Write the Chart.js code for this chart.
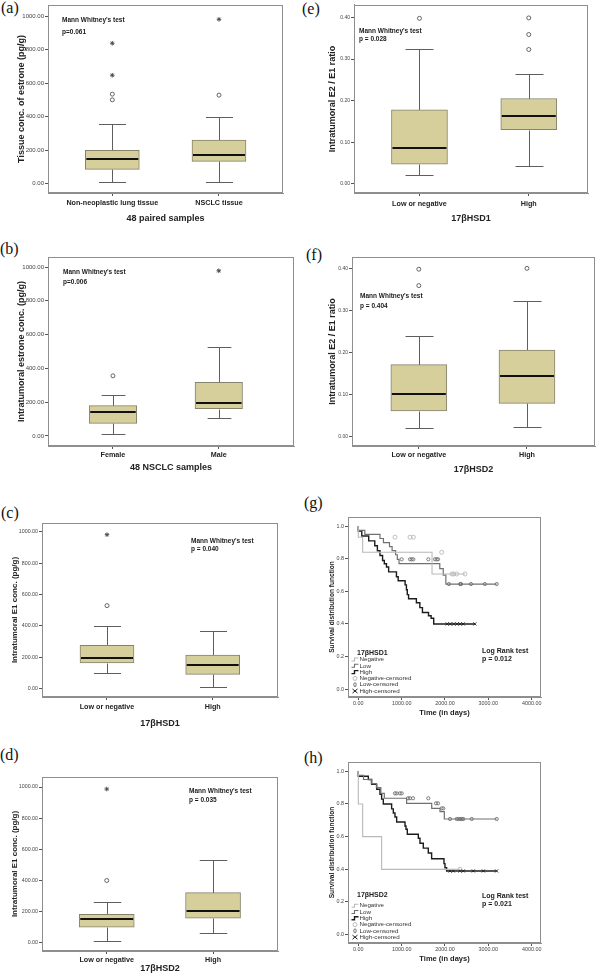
<!DOCTYPE html>
<html>
<head>
<meta charset="utf-8">
<script src="https://cdn.jsdelivr.net/npm/chart.js@4.4.1/dist/chart.umd.min.js"></script>
<style>
  html, body { margin: 0; padding: 0; background: #fff; }
  body { position: relative; width: 600px; height: 979px; overflow: hidden; }
  canvas { position: absolute; }
  .plabel { position: absolute; font-family: 'Liberation Serif', 'DejaVu Serif', serif; font-size: 16px; line-height: 16px; color: #111; }
</style>
</head>
<body>
<div class="plabel" style="left:1px;top:0px">(a)</div>
<div class="plabel" style="left:302px;top:1px">(e)</div>
<div class="plabel" style="left:0px;top:241px">(b)</div>
<div class="plabel" style="left:306px;top:247px">(f)</div>
<div class="plabel" style="left:1px;top:505px">(c)</div>
<div class="plabel" style="left:304px;top:495px">(g)</div>
<div class="plabel" style="left:0px;top:747px">(d)</div>
<div class="plabel" style="left:304px;top:750px">(h)</div>
<script>
// ---------------- DATA ----------------
const E1_TICKS = [0, 200, 400, 600, 800, 1000];
const RATIO_TICKS = [0, 0.1, 0.2, 0.3, 0.4];
const SURV_TICKS = [0, 0.2, 0.4, 0.6, 0.8, 1.0];
const TIME_TICKS = [0, 1000, 2000, 3000, 4000];

// box stats: [lower whisker, Q1, median, Q3, upper whisker]
// (a)
const aCategories = ["Non-neoplastic lung tissue", "NSCLC tissue"];
const aStats = [[12, 85, 147, 199, 354], [8, 133, 171, 260, 398]];
const aOutliers = [[501, 535], [529]];
const aExtremes = [[648, 839], [982]];
// (b)
const bCategories = ["Female", "Male"];
const bStats = [[10, 75, 141, 180, 242], [105, 162, 198, 317, 527]];
const bOutliers = [[356], []];
const bExtremes = [[], [978]];
// (c)
const cCategories = ["Low or negative", "High"];
const cStats = [[100, 164, 198, 277, 398], [11, 91, 153, 215, 368]];
const cOutliers = [[530], []];
const cExtremes = [[983], []];
// (d)
const dCategories = ["Low or negative", "High"];
const dStats = [[9, 97, 148, 181, 258], [58, 155, 200, 320, 533]];
const dOutliers = [[398], []];
const dExtremes = [[987], []];
// (e)
const eCategories = ["Low or negative", "High"];
const eStats = [[0.021, 0.047, 0.087, 0.178, 0.323], [0.043, 0.130, 0.163, 0.205, 0.265]];
const eOutliers = [[0.398], [0.399, 0.359, 0.323]];
// (f)
const fCategories = ["Low or negative", "High"];
const fStats = [[0.021, 0.061, 0.101, 0.171, 0.240], [0.024, 0.079, 0.144, 0.206, 0.323]];
const fOutliers = [[0.359, 0.398], [0.400]];

// (g) 17βHSD1 survival
const gNegTimes = [0, 100, 1701, 2100];
const gNegSurv = [1.0, 0.933, 0.84, 0.707];
const gNegCensored = [846, 1193, 1270, 1924, 2162, 2200, 2270, 2462];
const gLowTimes = [0, 150, 500, 580, 720, 780, 860, 900, 940, 1880, 1960, 2020, 2070];
const gLowSurv = [1.0, 0.975, 0.95, 0.925, 0.90, 0.875, 0.85, 0.825, 0.797, 0.77, 0.74, 0.70, 0.645];
const gLowCensored = [1001, 1193, 1232, 1270, 1616, 1770, 1810, 1840, 2090, 2350, 2370, 2600, 2920, 3194];
const gHighTimes = [0, 80, 240, 380, 440, 500, 560, 600, 650, 700, 880, 920, 1080, 1110, 1130, 1160, 1340, 1420, 1480, 1620, 1680, 1740, 2010];
const gHighSurv = [1.0, 0.97, 0.94, 0.91, 0.88, 0.85, 0.82, 0.79, 0.77, 0.75, 0.72, 0.69, 0.665, 0.64, 0.61, 0.58, 0.555, 0.53, 0.50, 0.47, 0.45, 0.435, 0.40];
const gHighCensored = [2050, 2120, 2200, 2280, 2350, 2420, 2690];

// (h) 17βHSD2 survival
const hNegTimes = [0, 100, 538, 900];
const hNegSurv = [1.0, 0.8, 0.6, 0.4];
const hNegCensored = [2346];
const hLowTimes = [0, 120, 300, 420, 520, 600, 1115, 1694, 1885, 1985, 2040];
const hLowSurv = [1.0, 0.975, 0.95, 0.925, 0.90, 0.865, 0.835, 0.804, 0.773, 0.753, 0.708];
const hLowCensored = [846, 885, 960, 1001, 1147, 1192, 1262, 1616, 1793, 1840, 1924, 1962, 2116, 2270, 2310, 2350, 2390, 2423, 2617, 3194];
const hHighTimes = [0, 231, 308, 423, 500, 538, 577, 769, 808, 846, 885, 1077, 1100, 1131, 1385, 1423, 1500, 1615, 1692, 1977, 2000, 2038, 2077];
const hHighSurv = [1.0, 0.97, 0.95, 0.92, 0.89, 0.86, 0.83, 0.80, 0.77, 0.745, 0.72, 0.69, 0.665, 0.645, 0.615, 0.59, 0.56, 0.53, 0.50, 0.465, 0.435, 0.41, 0.39];
const hHighCensored = [2115, 2192, 2346, 2423, 2654, 2885, 3192];

const kmLegendLabels = ["Negative", "Low", "High", "Negative-censored", "Low-censored", "High-censored"];

// ---------------- STYLE ----------------
const FONT = "'Liberation Sans', Arial, sans-serif";
Chart.defaults.font.family = FONT;
Chart.defaults.color = '#333';
const BOX_FILL = '#d6cf9c';
const BOX_EDGE = '#85826c';
const WHISKER = '#5e5e5e';
const FRAME = '#8e8e8e';
const NEG_C = '#b9b9b9';
const LOW_C = '#707070';
const HIGH_C = '#1c1c1c';

function makeCanvas(rect) {
  const c = document.createElement('canvas');
  c.width = rect[2]; c.height = rect[3];
  c.style.left = rect[0] + 'px'; c.style.top = rect[1] + 'px';
  c.style.width = rect[2] + 'px'; c.style.height = rect[3] + 'px';
  document.body.appendChild(c);
  return c;
}

const framePlugin = {
  id: 'frame',
  afterDraw(chart) {
    const { ctx, chartArea: a } = chart;
    ctx.save();
    ctx.strokeStyle = FRAME; ctx.lineWidth = 1;
    const l = Math.round(a.left) + 0.5, t = Math.round(a.top) + 0.5;
    const r = Math.round(a.right) - 0.5, b = Math.round(a.bottom) - 0.5;
    ctx.strokeRect(l, t, r - l, b - t);
    ctx.restore();
  }
};

function notesPlugin(notes, ox, oy) {
  return {
    id: 'notes',
    afterDraw(chart) {
      const ctx = chart.ctx;
      ctx.save();
      ctx.fillStyle = '#1a1a1a';
      ctx.textBaseline = 'middle';
      ctx.textAlign = 'left';
      notes.forEach(n => {
        ctx.font = n.font;
        ctx.fillText(n.text, n.x - ox, n.y - oy);
      });
      ctx.restore();
    }
  };
}

function boxPlugin(stats, barPx) {
  return {
    id: 'boxw',
    beforeDatasetsDraw(chart) {
      const { ctx, scales: { x, y } } = chart;
      ctx.save();
      ctx.strokeStyle = WHISKER; ctx.lineWidth = 1;
      const cap = barPx / 4;
      stats.forEach((s, i) => {
        const px = Math.round(x.getPixelForValue(i + 1)) + 0.5;
        const p = s.map(v => Math.round(y.getPixelForValue(v)) + 0.5);
        ctx.beginPath();
        ctx.moveTo(px, p[3]); ctx.lineTo(px, p[4]);
        ctx.moveTo(px - cap, p[4]); ctx.lineTo(px + cap, p[4]);
        ctx.moveTo(px, p[1]); ctx.lineTo(px, p[0]);
        ctx.moveTo(px - cap, p[0]); ctx.lineTo(px + cap, p[0]);
        ctx.stroke();
      });
      ctx.restore();
    },
    afterDatasetsDraw(chart) {
      const { ctx, scales: { x, y } } = chart;
      ctx.save();
      ctx.strokeStyle = '#111'; ctx.lineWidth = 2;
      stats.forEach((s, i) => {
        const px = x.getPixelForValue(i + 1);
        const m = Math.round(y.getPixelForValue(s[2]));
        ctx.beginPath();
        ctx.moveTo(px - barPx / 2 + 1, m); ctx.lineTo(px + barPx / 2 - 1, m);
        ctx.stroke();
      });
      ctx.restore();
    }
  };
}

function makeBoxPanel(p) {
  const [cx, cy, cw, ch] = p.rect;
  const [L, T, R, B] = p.frame;
  const cv = makeCanvas(p.rect);
  const catSize = 7.2, tl = 3;
  const yTitleSize = p.yTitleSize || 9;
  const xTitleSize = 9;
  const pts = (arr) => arr.flatMap((vals, i) => vals.map(v => ({ x: i + 1, y: v })));
  const datasets = [
    { type: 'bar', data: p.stats.map((s, i) => ({ x: i + 1, y: [s[1], s[3]] })),
      backgroundColor: BOX_FILL, borderColor: BOX_EDGE, borderWidth: 1, borderSkipped: false,
      barThickness: p.barPx, order: 3 },
    { type: 'scatter', data: pts(p.outliers), pointStyle: 'circle', pointRadius: 2,
      borderColor: '#555', backgroundColor: '#fff', borderWidth: 0.9, order: 1 }
  ];
  if (p.extremes) datasets.push({ type: 'scatter', data: pts(p.extremes), pointStyle: 'star', pointRadius: 2.3,
      borderColor: '#444', backgroundColor: '#444', borderWidth: 0.9, order: 1 });
  new Chart(cv, {
    type: 'bar',
    data: { datasets },
    options: {
      responsive: false, animation: false, events: [],
      layout: { padding: { left: 0, top: T - cy, right: cx + cw - R, bottom: 0 } },
      plugins: { legend: { display: false }, tooltip: { enabled: false } },
      scales: {
        x: {
          type: 'linear', min: p.xRange[0], max: p.xRange[1], offset: false,
          afterBuildTicks: s => { s.ticks = p.cats.map((c, i) => ({ value: i + 1 })); },
          afterFit: s => { s.height = cy + ch - B; },
          ticks: { callback: v => p.cats[Math.round(v) - 1], font: { size: catSize, weight: 'bold' }, color: '#222',
                   padding: p.catY - B - tl - catSize * 0.6, maxRotation: 0, autoSkip: false },
          grid: { drawOnChartArea: false, offset: false, tickLength: tl, color: '#555' },
          border: { display: true, color: FRAME },
          title: { display: true, text: p.xTitle, color: '#222', font: { size: xTitleSize, weight: 'bold' },
                   padding: { top: 0, bottom: (cy + ch) - p.xTitleY - xTitleSize * 0.6 } }
        },
        y: {
          type: 'linear', min: p.yRange[0], max: p.yRange[1],
          afterBuildTicks: s => { s.ticks = p.yTicks.map(v => ({ value: v })); },
          afterFit: s => { s.width = L - cx; },
          ticks: { callback: v => v.toFixed(2), font: { size: p.yTickSize || 6 }, color: '#444', padding: 1 },
          grid: { drawOnChartArea: false, tickLength: tl, color: '#555' },
          border: { display: true, color: FRAME },
          title: { display: true, text: p.yTitle, color: '#222', font: { size: yTitleSize, weight: 'bold' },
                   padding: { top: p.yTitleX - cx - yTitleSize * 0.6, bottom: 0 } }
        }
      }
    },
    plugins: [framePlugin, boxPlugin(p.stats, p.barPx), notesPlugin(p.notes, cx, cy)]
  });
}

function survAt(times, surv, t) {
  let s = surv[0];
  for (let i = 0; i < times.length; i++) if (times[i] <= t) s = surv[i];
  return s;
}

function kmLegendPlugin(lg, ox, oy) {
  return {
    id: 'kmlegend',
    afterDraw(chart) {
      const ctx = chart.ctx;
      ctx.save();
      ctx.textBaseline = 'middle'; ctx.textAlign = 'left';
      ctx.fillStyle = '#222';
      ctx.font = `bold 7px ${FONT}`;
      ctx.fillText(lg.title, lg.titleX - ox, lg.titleY - oy);
      const colors = [NEG_C, LOW_C, HIGH_C];
      kmLegendLabels.forEach((lab, i) => {
        const y = lg.rowY + i * lg.rowStep - oy;
        const sx = lg.textX - ox - 8;
        ctx.lineWidth = 1;
        if (i < 3) {
          ctx.strokeStyle = colors[i];
          ctx.lineWidth = i === 2 ? 1.4 : 1.1;
          ctx.beginPath();
          ctx.moveTo(sx, y + 1.5); ctx.lineTo(sx + 3, y + 1.5); ctx.lineTo(sx + 3, y - 1.5); ctx.lineTo(sx + 7, y - 1.5);
          ctx.stroke();
        } else if (i === 3) {
          ctx.strokeStyle = NEG_C;
          ctx.beginPath(); ctx.arc(sx + 3.5, y, 2, 0, Math.PI * 2); ctx.stroke();
        } else if (i === 4) {
          ctx.strokeStyle = LOW_C;
          ctx.beginPath(); ctx.ellipse(sx + 3.5, y, 1.2, 2, 0, 0, Math.PI * 2); ctx.stroke();
        } else {
          ctx.strokeStyle = HIGH_C;
          ctx.beginPath();
          ctx.moveTo(sx + 1, y - 2); ctx.lineTo(sx + 6, y + 2);
          ctx.moveTo(sx + 1, y + 2); ctx.lineTo(sx + 6, y - 2);
          ctx.stroke();
        }
        ctx.fillStyle = '#333';
        ctx.font = `6.2px ${FONT}`;
        ctx.fillText(lab, lg.textX - ox, y);
      });
      ctx.restore();
    }
  };
}

function makeKMPanel(p) {
  const [cx, cy, cw, ch] = p.rect;
  const [L, T, R, B] = p.frame;
  const cv = makeCanvas(p.rect);
  const tl = 3, tickSize = 5.4, xTitleSize = 7.5, yTitleSize = 6.6;
  const curve = (times, surv, cens) => {
    const d = times.map((t, i) => ({ x: t, y: surv[i] }));
    const end = Math.max(...cens, times[times.length - 1]);
    d.push({ x: end, y: surv[surv.length - 1] });
    return d;
  };
  const censPts = (times, surv, cens) => cens.map(t => ({ x: t, y: survAt(times, surv, t) }));
  const c = p.curves;
  const datasets = [
    { data: curve(c.neg[0], c.neg[1], c.neg[2]), borderColor: NEG_C, borderWidth: 1.1, stepped: 'after', pointRadius: 0, fill: false },
    { data: curve(c.low[0], c.low[1], c.low[2]), borderColor: LOW_C, borderWidth: 1.2, stepped: 'after', pointRadius: 0, fill: false },
    { data: curve(c.high[0], c.high[1], c.high[2]), borderColor: HIGH_C, borderWidth: 1.4, stepped: 'after', pointRadius: 0, fill: false },
    { data: censPts(c.neg[0], c.neg[1], c.neg[2]), showLine: false, pointStyle: 'circle', pointRadius: 2,
      borderColor: NEG_C, backgroundColor: 'rgba(255,255,255,0)', borderWidth: 0.9 },
    { data: censPts(c.low[0], c.low[1], c.low[2]), showLine: false, pointStyle: 'circle', pointRadius: 1.6,
      borderColor: LOW_C, backgroundColor: 'rgba(255,255,255,0)', borderWidth: 0.9 },
    { data: censPts(c.high[0], c.high[1], c.high[2]), showLine: false, pointStyle: 'crossRot', pointRadius: 2.2,
      borderColor: HIGH_C, borderWidth: 0.9 }
  ];
  new Chart(cv, {
    type: 'line',
    data: { datasets },
    options: {
      responsive: false, animation: false, events: [],
      layout: { padding: { left: 0, top: T - cy, right: cx + cw - R, bottom: 0 } },
      plugins: { legend: { display: false }, tooltip: { enabled: false } },
      scales: {
        x: {
          type: 'linear', min: p.xRange[0], max: p.xRange[1],
          afterBuildTicks: s => { s.ticks = TIME_TICKS.map(v => ({ value: v })); },
          afterFit: s => { s.height = cy + ch - B; },
          ticks: { callback: v => v.toFixed(2), font: { size: tickSize }, color: '#444',
                   padding: Math.max(0, p.tickY - B - tl - tickSize * 0.6), maxRotation: 0, autoSkip: false },
          grid: { drawOnChartArea: false, tickLength: tl, color: '#555' },
          border: { display: true, color: FRAME },
          title: { display: true, text: 'Time (in days)', color: '#222', font: { size: xTitleSize, weight: 'bold' },
                   padding: { top: 0, bottom: (cy + ch) - p.xTitleY - xTitleSize * 0.6 } }
        },
        y: {
          type: 'linear', min: p.yRange[0], max: p.yRange[1],
          afterBuildTicks: s => { s.ticks = SURV_TICKS.map(v => ({ value: v })); },
          afterFit: s => { s.width = L - cx; },
          ticks: { callback: v => v.toFixed(1), font: { size: tickSize }, color: '#444', padding: 1 },
          grid: { drawOnChartArea: false, tickLength: tl, color: '#555' },
          border: { display: true, color: FRAME },
          title: { display: true, text: 'Survival distribution function', color: '#222', font: { size: yTitleSize, weight: 'bold' },
                   padding: { top: p.yTitleX - cx - yTitleSize * 0.6, bottom: 0 } }
        }
      }
    },
    plugins: [framePlugin, kmLegendPlugin(p.legend, cx, cy), notesPlugin(p.notes, cx, cy)]
  });
}

const noteFont = `bold 6.5px ${FONT}`;
const kmNoteFont = `bold 7px ${FONT}`;
const E1_TITLE = 'Intratumoral E1 conc. (pg/g)';
const RATIO_TITLE = 'Intratumoral E2 / E1 ratio';

makeBoxPanel({
  rect: [0, 0, 300, 235], frame: [48, 5, 283, 193], xRange: [0.397, 2.600], yRange: [-55.7, 1067.6],
  cats: aCategories, stats: aStats, outliers: aOutliers, extremes: aExtremes, yTicks: E1_TICKS,
  yTitle: 'Tissue conc. of estrone (pg/g)', xTitle: '48 paired samples', yTitleX: 22, xTitleY: 219, catY: 203, barPx: 54,
  notes: [{ text: "Mann Whitney's test", x: 62, y: 20, font: noteFont }, { text: 'p=0.061', x: 62, y: 32, font: noteFont }]
});
makeBoxPanel({
  rect: [0, 240, 300, 240], frame: [48, 257, 294, 446], xRange: [0.386, 2.711], yRange: [-59.4, 1059.4],
  cats: bCategories, stats: bStats, outliers: bOutliers, extremes: bExtremes, yTicks: E1_TICKS,
  yTitle: 'Intratumoral estrone conc. (pg/g)', xTitle: '48 NSCLC samples', yTitleX: 21.7, xTitleY: 468, catY: 455, barPx: 47.5,
  notes: [{ text: "Mann Whitney's test", x: 63, y: 272, font: noteFont }, { text: 'p=0.006', x: 63, y: 282, font: noteFont }]
});
makeBoxPanel({
  rect: [0, 480, 300, 250], frame: [42, 523, 278, 697], xRange: [0.385, 2.618], yRange: [-53.2, 1057.4],
  cats: cCategories, stats: cStats, outliers: cOutliers, extremes: cExtremes, yTicks: E1_TICKS, yTickSize: 5.3, yTitleSize: 8,
  yTitle: E1_TITLE, xTitle: '17βHSD1', yTitleX: 15, xTitleY: 724, catY: 707, barPx: 54,
  notes: [{ text: "Mann Whitney's test", x: 191, y: 541, font: noteFont }, { text: 'p = 0.040', x: 191, y: 549, font: noteFont }]
});
makeBoxPanel({
  rect: [0, 730, 300, 249], frame: [42, 777, 278, 951], xRange: [0.391, 2.611], yRange: [-55.9, 1064.5],
  cats: dCategories, stats: dStats, outliers: dOutliers, extremes: dExtremes, yTicks: E1_TICKS, yTickSize: 5.3, yTitleSize: 8,
  yTitle: E1_TITLE, xTitle: '17βHSD2', yTitleX: 15, xTitleY: 969, catY: 960, barPx: 55,
  notes: [{ text: "Mann Whitney's test", x: 189, y: 791, font: noteFont }, { text: 'p = 0.035', x: 189, y: 800, font: noteFont }]
});
makeBoxPanel({
  rect: [300, 0, 300, 235], frame: [354, 4, 588, 193], xRange: [0.401, 2.542], yRange: [-0.0223, 0.4303],
  cats: eCategories, stats: eStats, outliers: eOutliers, yTicks: RATIO_TICKS, yTickSize: 5,
  yTitle: RATIO_TITLE, xTitle: '17βHSD1', yTitleX: 333, xTitleY: 219, catY: 204, barPx: 56,
  notes: [{ text: "Mann Whitney's test", x: 359, y: 31, font: noteFont }, { text: 'p = 0.028', x: 359, y: 39, font: noteFont }]
});
makeBoxPanel({
  rect: [300, 240, 300, 240], frame: [352, 257, 598, 446], xRange: [0.382, 2.630], yRange: [-0.0223, 0.4270],
  cats: fCategories, stats: fStats, outliers: fOutliers, yTicks: RATIO_TICKS, yTickSize: 5,
  yTitle: RATIO_TITLE, xTitle: '17βHSD2', yTitleX: 333, xTitleY: 470, catY: 455, barPx: 56,
  notes: [{ text: "Mann Whitney's test", x: 360, y: 296, font: noteFont }, { text: 'p = 0.404', x: 360, y: 306, font: noteFont }]
});
makeKMPanel({
  rect: [300, 480, 300, 245], frame: [348, 517, 541, 697], xRange: [-238, 4216], yRange: [-0.049, 1.057],
  curves: { neg: [gNegTimes, gNegSurv, gNegCensored], low: [gLowTimes, gLowSurv, gLowCensored], high: [gHighTimes, gHighSurv, gHighCensored] },
  yTitleX: 332, xTitleY: 713, tickY: 703,
  legend: { title: '17βHSD1', titleX: 357, titleY: 653, textX: 359.5, rowY: 659.5, rowStep: 6.3 },
  notes: [{ text: 'Log Rank test', x: 482, y: 651, font: kmNoteFont }, { text: 'p = 0.012', x: 482, y: 659, font: kmNoteFont }]
});
makeKMPanel({
  rect: [300, 730, 300, 249], frame: [348, 762, 541, 943], xRange: [-238, 4216], yRange: [-0.051, 1.057],
  curves: { neg: [hNegTimes, hNegSurv, hNegCensored], low: [hLowTimes, hLowSurv, hLowCensored], high: [hHighTimes, hHighSurv, hHighCensored] },
  yTitleX: 332, xTitleY: 959, tickY: 949,
  legend: { title: '17βHSD2', titleX: 357, titleY: 895, textX: 359.5, rowY: 905.7, rowStep: 6.3 },
  notes: [{ text: 'Log Rank test', x: 482, y: 896, font: kmNoteFont }, { text: 'p = 0.021', x: 482, y: 904, font: kmNoteFont }]
});
</script>
</body>
</html>
